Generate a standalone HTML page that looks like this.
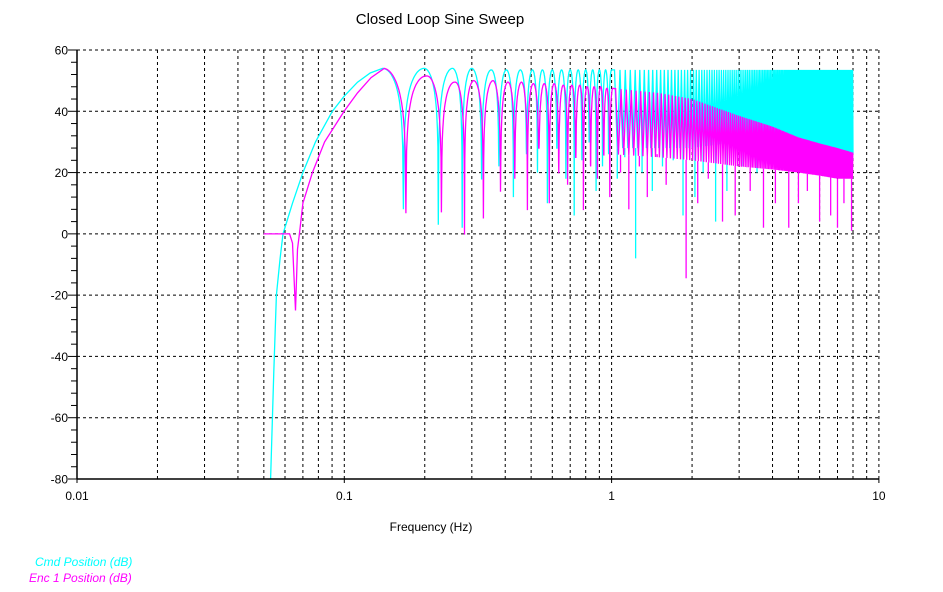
<!DOCTYPE html>
<html><head><meta charset="utf-8">
<style>
html,body{margin:0;padding:0;background:#fff;}
svg{display:block;font-family:"Liberation Sans",Arial,sans-serif;}
</style></head>
<body>
<svg id="chart" width="943" height="592" viewBox="0 0 943 592">
  <text x="440" y="24" font-size="15" text-anchor="middle">Closed Loop Sine Sweep</text>
  <g id="grid"></g>
  <g id="series"></g>
  <g id="axes"></g>
  <text x="431" y="531" font-size="12" text-anchor="middle">Frequency (Hz)</text>
  <text x="35" y="566" font-size="12" font-style="italic" fill="#00ffff">Cmd Position (dB)</text>
  <text x="29" y="582" font-size="12" font-style="italic" fill="#ff00ff">Enc 1 Position (dB)</text>
</svg>
<script>
// ---- data ----
const xTicks = [0.01, 0.1, 1, 10];
const xTickLabels = ["0.01", "0.1", "1", "10"];
const yTicks = [60, 40, 20, 0, -20, -40, -60, -80];
const yTickLabels = ["60", "40", "20", "0", "-20", "-40", "-60", "-80"];

// rising initial section
const cmdRiseFreq = [0.0530, 0.0545, 0.0557, 0.0575, 0.059, 0.064, 0.070, 0.078, 0.0902, 0.100, 0.112, 0.125, 0.139];
const cmdRiseDb   = [-80, -45, -20, -8, 0, 10, 20, 30, 40, 45, 49.5, 52.5, 54];
const encRiseFreq = [0.0499, 0.0624, 0.0640, 0.0657, 0.0668, 0.0679, 0.0700, 0.0760, 0.0844, 0.0998, 0.112, 0.126, 0.141];
const encRiseDb   = [0, 0, -3, -25, -5, 0, 10, 20, 30, 40, 46, 51, 54];

// resolved lobes (peaks & notches)
const cmdPeakFreq = [0.139, 0.199, 0.254, 0.300, 0.355, 0.404, 0.456, 0.506, 0.551, 0.60, 0.65, 0.70, 0.75, 0.80, 0.85, 0.90, 0.95, 1.0];
const cmdPeakDb   = [54, 54, 54, 54, 53.5, 53.5, 53.5, 53.5, 53.5, 53.5, 53.5, 53.5, 53.5, 53.5, 53.5, 53.5, 53.5, 53.5];
const cmdNotchDb  = [8, 3, 2, 18, 22, 12, 26, 20, 10, 28, 18, 6, 24, 30, 14, 22, 26];
const encPeakFreq = [0.141, 0.205, 0.260, 0.305, 0.360, 0.410, 0.460, 0.510, 0.560, 0.61, 0.66, 0.71, 0.76, 0.81, 0.86, 0.91, 0.96, 1.01];
const encPeakDb   = [54, 51.5, 49.5, 50, 50, 49.5, 49.5, 49, 49, 49, 48.5, 48.5, 48.5, 48, 48, 48, 47.5, 47.5];
const encNotchDb  = [8, 8, 0, 5, 14, 18, 8, 28, 10, 20, 16, 25, 8, 22, 18, 26, 12];

// dense band 1-8 Hz (envelopes)
const bandFreq  = [1.0, 1.5, 2.0, 3.0, 4.0, 5.0, 6.0, 7.0, 8.0];
const cmdUpper  = [53.5, 53.5, 53.5, 53.5, 53.5, 53.5, 53.5, 53.5, 53.5];
const cmdLower  = [28, 28, 28, 30, 29, 28, 27, 26, 26];
const encUpper  = [47.5, 46, 44, 38.5, 35, 31.5, 29.5, 28, 26.5];
const encLower  = [26, 25, 24, 22, 21, 20, 19, 18, 18];

const cmdSpikeFreq = [1.05, 1.12, 1.23, 1.3, 1.42, 1.55, 1.7, 1.85, 2.05, 2.2, 2.45, 2.7, 3.1, 3.5, 4.2, 4.8, 5.5, 6.3, 7.2, 7.8];
const cmdSpikeDb   = [18, 25, -8, 20, 14, 22, 24, 6, 12, 20, 4, 14, 22, 20, 26, 22, 24, 20, 24, 28];
const encSpikeFreq = [1.08, 1.16, 1.27, 1.36, 1.48, 1.6, 1.9, 2.1, 2.3, 2.6, 2.9, 3.3, 3.7, 4.1, 4.6, 5.0, 5.4, 6.0, 6.6, 7.0, 7.4, 7.9];
const encSpikeDb   = [20, 8, 22, 12, 26, 16, -14.5, 10, 18, 4, 6, 14, 2, 10, 2, 10, 14, 4, 6, 2, 10, 1];

// ---- scales ----
const X0 = 77, DEC = 267.3, Y0 = 50, YS = (479 - 50) / 140;
const xs = f => X0 + DEC * (Math.log10(f) + 2);
const ys = d => Y0 + (60 - d) * YS;
const NS = "http://www.w3.org/2000/svg";
function mk(tag, attrs, parent) {
  const e = document.createElementNS(NS, tag);
  for (const k in attrs) e.setAttribute(k, attrs[k]);
  parent.appendChild(e);
  return e;
}
const grid = document.getElementById('grid');
const axes = document.getElementById('axes');
const series = document.getElementById('series');

// grid verticals
for (let dec = -2; dec < 1; dec++) {
  for (let m = 1; m <= 9; m++) {
    const f = m * Math.pow(10, dec);
    if (dec === -2 && m === 1) continue;
    const x = xs(f);
    const l = mk('line', {x1: x, x2: x, y1: Y0, y2: 479, stroke: '#000', 'stroke-dasharray': '3,3', 'stroke-width': 1}, grid);
    
    
  }
}
{ const x = xs(10);
  const l = mk('line', {x1: x, x2: x, y1: Y0, y2: 479, stroke: '#000', 'stroke-dasharray': '3,3'}, grid);
  
   }
yTicks.forEach(v => {
  if (v === -80) return;
  const y = ys(v);
  const l = mk('line', {x1: X0, x2: xs(10), y1: y, y2: y, stroke: '#000', 'stroke-dasharray': '3,3'}, grid);
  
  
});

// ---- series ----
function lobePath(peakF, peakD, notchD) {
  const pts = [];
  for (let i = 0; i < peakF.length - 1; i++) {
    const la = Math.log10(peakF[i]), lb = Math.log10(peakF[i + 1]);
    const N = 60;
    const floor = Math.pow(10, (notchD[i] - Math.max(peakD[i], peakD[i + 1])) / 20);
    for (let k = 0; k <= N; k++) {
      const t = k / N;
      const p = peakD[i] + (peakD[i + 1] - peakD[i]) * t;
      const s = Math.max(Math.abs(Math.cos(Math.PI * t)), floor);
      const v = p + 20 * Math.log10(s);
      pts.push([xs(Math.pow(10, la + (lb - la) * t)), ys(v)]);
    }
  }
  return pts;
}
function interpEnv(arr, f) {
  let j = 0;
  while (j < bandFreq.length - 2 && bandFreq[j + 1] < f) j++;
  const t = (Math.log10(f) - Math.log10(bandFreq[j])) / (Math.log10(bandFreq[j + 1]) - Math.log10(bandFreq[j]));
  return arr[j] + (arr[j + 1] - arr[j]) * Math.max(0, Math.min(1, t));
}
function drawSeries(name, color, riseF, riseD, peakF, peakD, notchD, up, lo, spF, spD, f0) {
  const g = mk('g', {}, series);
  
  
  const pts = riseF.map((f, i) => [xs(f), ys(riseD[i])]).concat(lobePath(peakF, peakD, notchD));
  // dense region: alternate between upper and lower envelope every half sweep-period
  let k = 0;
  for (let f = f0; f <= bandFreq[bandFreq.length - 1] + 1e-9; f += 0.025, k++) {
    const v = (k % 2 === 0) ? interpEnv(up, f) : interpEnv(lo, f);
    pts.push([xs(f), ys(v)]);
  }
  const p = mk('polyline', {points: pts.map(q => q[0].toFixed(1) + ',' + q[1].toFixed(1)).join(' '), fill: 'none', stroke: color, 'stroke-width': 1.3}, g);
  
  
  spF.forEach((f, i) => {
    const topv = interpEnv(lo, f);
    const s = mk('line', {x1: xs(f), x2: xs(f), y1: ys(topv), y2: ys(spD[i]), stroke: color, 'stroke-width': 1.3}, g);
    
    
  });
}
drawSeries('cmd-position-series', '#00ffff', cmdRiseFreq, cmdRiseDb, cmdPeakFreq, cmdPeakDb, cmdNotchDb, cmdUpper, cmdLower, cmdSpikeFreq, cmdSpikeDb, 1.025);
drawSeries('enc-position-series', '#ff00ff', encRiseFreq, encRiseDb, encPeakFreq, encPeakDb, encNotchDb, encUpper, encLower, encSpikeFreq, encSpikeDb, 1.035);

// ---- axes ----
{ const l = mk('line', {x1: X0, x2: X0, y1: Y0, y2: 479.5, stroke: '#000', 'stroke-width': 1.5}, axes);
   
  const l2 = mk('line', {x1: X0, x2: xs(10), y1: 479, y2: 479, stroke: '#000', 'stroke-width': 1.5}, axes);
    }
for (let v = -80; v <= 60; v += 4) {
  const y = ys(v);
  const major = yTicks.indexOf(v) >= 0;
  const t = mk('line', {x1: X0 - (major ? 9 : 6), x2: X0, y1: y, y2: y, stroke: '#000', 'stroke-width': 1}, axes);
  
  
}
yTicks.forEach((v, i) => {
  const t = mk('text', {x: 68, y: ys(v) + 4.5, 'font-size': 12, 'text-anchor': 'end'}, axes);
  t.textContent = yTickLabels[i];
  
  
});
xTicks.forEach((f, i) => {
  const tk = mk('line', {x1: xs(f), x2: xs(f), y1: 479, y2: 483, stroke: '#000'}, axes);
  
  
  const t = mk('text', {x: xs(f), y: 500, 'font-size': 12, 'text-anchor': 'middle'}, axes);
  t.textContent = xTickLabels[i];
  
  
});
</script>
</body></html>
